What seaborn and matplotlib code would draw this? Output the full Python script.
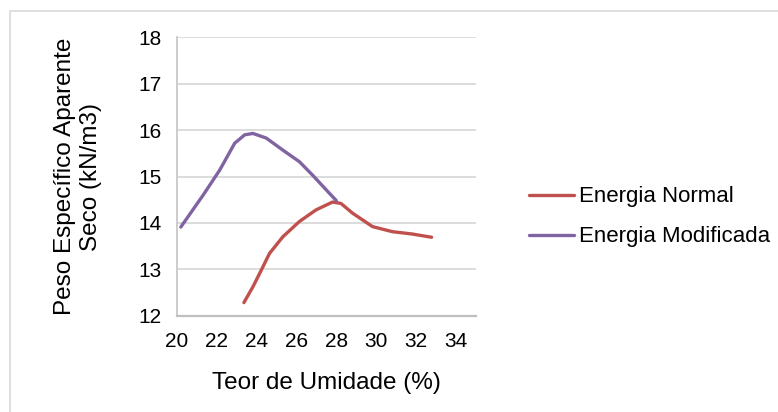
import pandas as pd
import matplotlib
matplotlib.use("Agg")
import matplotlib.pyplot as plt
import seaborn as sns
from matplotlib.patches import Rectangle

# values
normal_x = [23.37, 23.82, 24.24, 24.65, 25.32, 26.15, 26.98, 27.81, 28.23, 28.81, 29.81, 30.81, 31.80, 32.77]
normal_y = [12.28, 12.62, 12.98, 13.34, 13.70, 14.03, 14.28, 14.45, 14.42, 14.21, 13.92, 13.81, 13.76, 13.69]

modif_x = [20.21, 21.33, 22.16, 22.91, 23.41, 23.82, 24.49, 25.32, 26.15, 26.81, 27.65, 28.0]
modif_y = [13.91, 14.60, 15.14, 15.72, 15.90, 15.93, 15.83, 15.57, 15.32, 15.03, 14.64, 14.48]

series_names = ["Energia Normal", "Energia Modificada"]
x_ticks = [20, 22, 24, 26, 28, 30, 32, 34]
y_ticks = [12, 13, 14, 15, 16, 17, 18]

df = pd.concat([
    pd.DataFrame({"umidade": normal_x, "peso": normal_y, "serie": series_names[0]}),
    pd.DataFrame({"umidade": modif_x, "peso": modif_y, "serie": series_names[1]}),
], ignore_index=True)

sns.set_style("white")
plt.rcParams["font.family"] = ["Liberation Sans", "DejaVu Sans"]

fig = plt.figure(figsize=(7.78, 4.12), dpi=100)
ax = fig.add_axes([0.227, 0.234, 0.385, 0.675])

# outer chart-area border (only top/left visible in the crop)
fig.patches.append(Rectangle((10 / 778, -0.1), 1.2, 1 - 11 / 412 + 0.1,
                             transform=fig.transFigure, fill=False,
                             edgecolor="#d9d9d9", linewidth=1.2))

sns.lineplot(data=df, x="umidade", y="peso", hue="serie", sort=False,
             palette={series_names[0]: "#c0504d", series_names[1]: "#8064a2"},
             linewidth=2.4, ax=ax, estimator=None)

ax.set_xlim(20, 35)
ax.set_ylim(12, 18)
ax.set_xticks(x_ticks)
ax.set_yticks(y_ticks)
ax.yaxis.grid(True, color="#d9d9d9", linewidth=1.3)
ax.set_axisbelow(True)
ax.tick_params(length=0, labelsize=15, colors="black")
ax.tick_params(axis="x", pad=12)
ax.tick_params(axis="y", pad=11)

for side in ["top", "right"]:
    ax.spines[side].set_visible(False)
ax.spines["left"].set_color("#c8c8c8")
ax.spines["bottom"].set_color("#bfbfbf")
ax.spines["left"].set_linewidth(1.3)
ax.spines["bottom"].set_linewidth(1.6)

ax.set_xlabel("Teor de Umidade (%)", fontsize=17.5, labelpad=15, color="black")
ax.set_ylabel("Peso Específico Aparente\nSeco (kN/m3)", fontsize=17.5, labelpad=26,
              linespacing=1.25, color="black")

ax.legend(title=None, frameon=False, fontsize=16, loc="center left",
          bbox_to_anchor=(1.11, 0.355), handlelength=2.0, handletextpad=0.25,
          labelspacing=0.85, labelcolor="black")

fig.savefig("out.png", dpi=100)
